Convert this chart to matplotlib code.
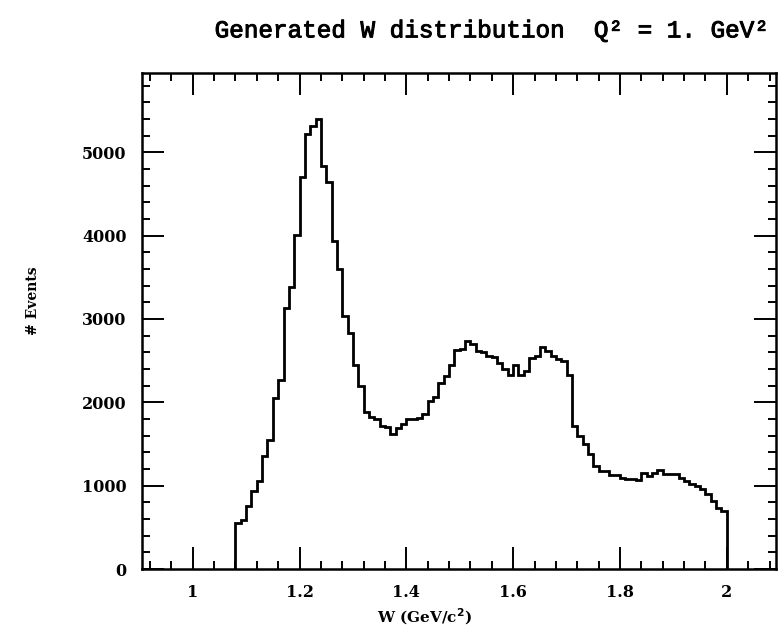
import numpy as np
import matplotlib.pyplot as plt
import matplotlib.patheffects as pe
from matplotlib.ticker import MultipleLocator

# W histogram, 0.01 GeV bins from 1.08 to 2.00
w_low, w_high = 1.08, 2.00
counts = [550, 590, 750, 930, 1060, 1360, 1550, 2050, 2270, 3130,
          3380, 4010, 4700, 5220, 5320, 5400, 4840, 4640, 3930, 3600,
          3040, 2830, 2450, 2190, 1880, 1820, 1800, 1720, 1700, 1620,
          1690, 1740, 1800, 1800, 1810, 1860, 2020, 2060, 2230, 2310,
          2450, 2630, 2640, 2730, 2700, 2620, 2600, 2550, 2540, 2470,
          2400, 2330, 2450, 2330, 2380, 2530, 2550, 2660, 2620, 2560,
          2520, 2500, 2330, 1720, 1600, 1500, 1380, 1240, 1170, 1170,
          1130, 1130, 1090, 1075, 1075, 1070, 1150, 1120, 1150, 1190,
          1145, 1145, 1140, 1090, 1055, 1015, 990, 955, 900, 820,
          730, 690]
x_ticks = [1, 1.2, 1.4, 1.6, 1.8, 2]
x_tick_labels = ["1", "1.2", "1.4", "1.6", "1.8", "2"]
y_ticks = [0, 1000, 2000, 3000, 4000, 5000]

edges = np.linspace(w_low, w_high, len(counts) + 1)

fig = plt.figure(figsize=(7.78, 6.30), dpi=100)
ax = fig.add_axes([0.1825, 0.0968, 0.8155, 0.7873])

ax.stairs(counts, edges, color="black", linewidth=2.0)

ax.set_xlim(0.905, 2.093)
ax.set_ylim(0, 5950)
ax.set_xticks(x_ticks)
ax.set_xticklabels(x_tick_labels)
ax.set_yticks(y_ticks)
ax.xaxis.set_minor_locator(MultipleLocator(0.04))
ax.yaxis.set_minor_locator(MultipleLocator(200))

ax.tick_params(which="both", direction="in", top=True, right=True,
               width=1.4, color="black")
ax.tick_params(which="major", length=16, pad=11)
ax.tick_params(which="minor", length=6)
for lab in ax.get_xticklabels() + ax.get_yticklabels():
    lab.set_fontfamily("DejaVu Serif")
    lab.set_fontweight("bold")
    lab.set_fontsize(11.5)
for s in ax.spines.values():
    s.set_linewidth(1.8)

ax.set_xlabel("W (GeV/c$^\\mathbf{2}$)", fontfamily="DejaVu Serif",
              fontweight="bold", fontsize=11)
ax.xaxis.set_label_coords(0.445, -0.075)
ax.set_ylabel("# Events", fontfamily="DejaVu Serif", fontweight="bold",
              fontsize=10)
ax.yaxis.set_label_coords(-0.16, 0.54)

fig.text(0.63, 0.951, "Generated W distribution  Q² = 1. GeV²",
         ha="center", va="center", fontfamily="Liberation Mono",
         fontsize=17.5,
         path_effects=[pe.withStroke(linewidth=0.7, foreground="black")])

fig.savefig("out.png", dpi=100)
